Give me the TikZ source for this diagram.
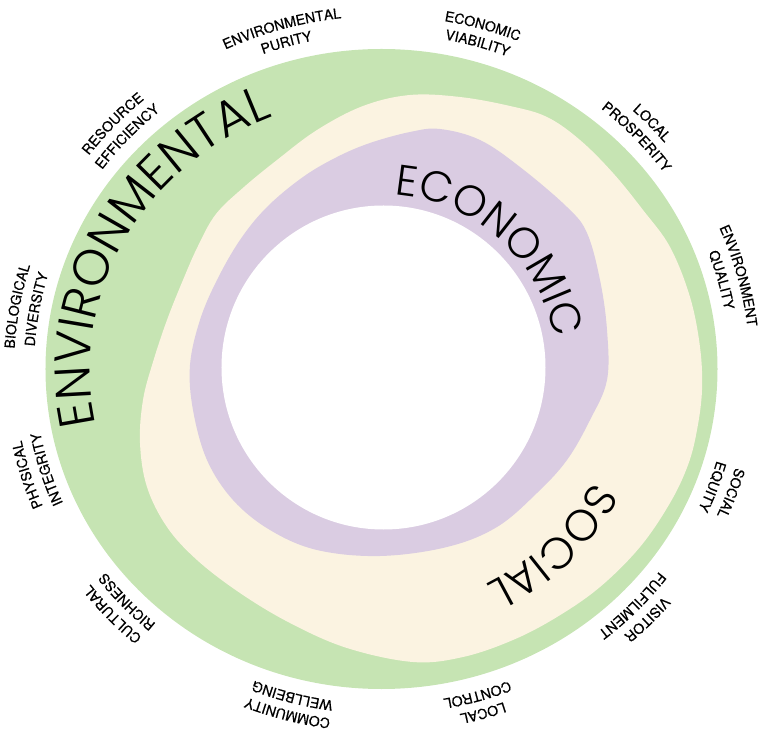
\documentclass[tikz,border=0pt]{standalone}
\usepackage{fontspec}
\setmainfont{TeX Gyre Heros}
\newfontfamily\labelfont{TeX Gyre Heros}[FakeBold=0.5]
\newfontfamily\thinfont{Poppins Light}
\usetikzlibrary{decorations.text}

\definecolor{envgreen}{HTML}{C6E4B3}
\definecolor{socialcream}{HTML}{FBF3E1}
\definecolor{econpurple}{HTML}{DACCE2}

% two-line label on the outer ring: angle, outer line, inner line
\newcommand\ringlabel[3]{%
  \path[ringtext={#2}] (#1+40:368 and 353) arc[start angle=#1+40, end angle=#1-40, x radius=368, y radius=353];
  \path[ringtext={#3}] (#1+40:348 and 335) arc[start angle=#1+40, end angle=#1-40, x radius=348, y radius=335];
}

\begin{document}
\begin{tikzpicture}[x=1pt, y=1pt,
  ringtext/.style={decorate, decoration={text along path, text align=center,
      text={|\labelfont\fontsize{14}{14}\selectfont|#1}}},
  bigtext/.style 2 args={decorate, decoration={text along path, text align=center,
      text={|\thinfont\fontsize{#1}{#1}\selectfont|#2}}}]

  \useasboundingbox (-382,-364) rectangle (378,369);

  \fill[envgreen] (-0.5,0) ellipse[x radius=336, y radius=320];

  \begin{scope}[shift={(-382,369)}, yscale=-1]
    \fill[socialcream] plot[smooth cycle, tension=0.6] coordinates {
      (410,95) (460,97) (510,106) (547,117) (580,140) (613,173) (643,210)
      (670,247) (690,297) (700,347) (702,390) (697,430) (688,465) (670,503)
      (640,547) (600,587) (557,617) (513,640) (463,657) (413,662) (347,648)
      (290,623) (240,593) (197,560) (167,527) (147,487) (140,443) (143,400)
      (153,362) (167,320) (183,280) (198,246) (216,214) (244,187) (277,160)
      (317,130) (363,106)};
    \fill[econpurple] plot[smooth cycle, tension=0.6] coordinates {
      (410,132) (440,129) (480,140) (520,167) (567,207) (587,233) (600,280)
      (607,330) (607,380) (590,420) (567,460) (537,493) (497,527) (447,547)
      (380,556) (317,550) (270,530) (233,500) (207,460) (193,410) (190,365)
      (200,320) (217,280) (240,240) (267,207) (303,177) (337,157) (370,143)};
  \end{scope}

  \fill[white] (1.5,1.5) circle[radius=162];

  \path[bigtext={50}{ENVIRONMENTAL}] (197:292 and 272) arc[start angle=197, end angle=107, x radius=292, y radius=272];
  \path[bigtext={43}{ECONOMIC}] (93:175) arc[start angle=93, end angle=3, radius=175];
  \path[bigtext={44}{SOCIAL}] (-1:239) arc[start angle=-1, end angle=-91, radius=239];

  \ringlabel{106}{ENVIRONMENTAL}{PURITY}
  \ringlabel{74}{ECONOMIC}{VIABILITY}
  \ringlabel{43}{LOCAL}{PROSPERITY}
  \ringlabel{15}{ENVIRONMENT}{QUALITY}
  \ringlabel{-20}{SOCIAL}{EQUITY}
  \ringlabel{-44}{VISITOR}{FULFILMENT}
  \ringlabel{-74}{LOCAL}{CONTROL}
  \ringlabel{-105}{COMMUNITY}{WELLBEING}
  \ringlabel{-137}{CULTURAL}{RICHNESS}
  \ringlabel{-163}{PHYSICAL}{INTEGRITY}
  \ringlabel{170}{BIOLOGICAL}{DIVERSITY}
  \ringlabel{137}{RESOURCE}{EFFICIENCY}
\end{tikzpicture}
\end{document}
